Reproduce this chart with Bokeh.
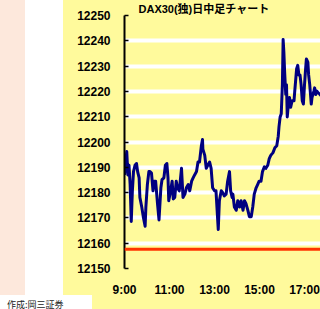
from bokeh.plotting import figure
from bokeh.models import Range1d, FixedTicker, Span, Div
from bokeh.layouts import column
from bokeh.embed import file_html
from bokeh.resources import INLINE

# ---- data ----
title_text = "DAX30(独)日中足チャート"
credit_text = "作成:岡三証券"
minutes_after_9 = [0, 6, 9, 12, 15, 18, 21, 24, 28, 32, 35, 39, 41, 46, 50, 55, 57, 61, 65, 68,
                   72, 76, 79, 83, 88, 92, 97, 100, 105, 109, 113, 116, 118, 123, 127, 130, 134,
                   138, 141, 146, 152, 156, 161, 165, 170, 174, 179, 183, 187, 192, 196, 200,
                   205, 208, 209, 214, 218, 222, 227, 231, 235, 240, 244, 247, 250, 253, 258,
                   262, 266, 271, 275, 280, 283, 287, 289, 293, 298, 302, 307, 311, 316, 320,
                   324, 329, 333, 338, 342, 346, 351, 355, 359, 364, 368, 373, 377, 382, 386,
                   390, 396, 401, 406, 410, 412, 415, 418, 421, 423, 425, 427, 430, 432, 434,
                   437, 440, 443, 447, 452, 454, 459, 462, 465, 468, 471, 474, 477, 480, 483,
                   485, 489, 491, 494, 498, 500, 505, 507, 510, 513, 516, 520, 526]
prices = [12187.0, 12196.2, 12187.0, 12190.8, 12183.2, 12168.6, 12180.7, 12188.3, 12190.8, 12191.5,
          12188.3, 12185.8, 12178.1, 12174.3, 12170.5, 12166.7, 12174.3, 12183.2, 12188.3, 12188.3,
          12187.7, 12180.7, 12184.5, 12184.5, 12175.6, 12169.2, 12181.9, 12185.1, 12185.8, 12190.8,
          12191.5, 12185.8, 12176.8, 12180.7, 12184.5, 12177.5, 12178.1, 12184.5, 12182.0, 12180.7,
          12189.6, 12178.1, 12179.4, 12181.9, 12183.2, 12180.7, 12184.5, 12185.8, 12187.0, 12188.3,
          12192.1, 12192.1, 12198.5, 12201.0, 12197.2, 12194.7, 12189.6, 12190.8, 12192.1, 12189.6,
          12181.9, 12180.7, 12180.7, 12173.0, 12165.4, 12176.8, 12180.7, 12180.0, 12178.7, 12179.4,
          12184.5, 12188.3, 12180.7, 12178.1, 12179.4, 12174.3, 12173.0, 12176.8, 12174.3, 12176.8,
          12173.0, 12176.8, 12175.6, 12173.0, 12170.5, 12170.5, 12174.3, 12179.4, 12181.9, 12183.2,
          12184.5, 12184.5, 12188.3, 12190.2, 12189.6, 12190.8, 12193.4, 12194.7, 12195.8, 12197.7,
          12198.5, 12202.3, 12206.1, 12209.9, 12211.2, 12222.6, 12240.5, 12235.4, 12227.7, 12218.8,
          12222.6, 12209.9, 12215.0, 12217.6, 12213.7, 12216.3, 12216.3, 12220.1, 12229.0, 12230.3,
          12226.5, 12226.5, 12222.6, 12216.3, 12215.0, 12222.6, 12229.0, 12232.8, 12231.6, 12226.5,
          12222.6, 12215.0, 12217.6, 12220.1, 12221.4, 12218.8, 12220.1, 12219.5, 12219.0, 12218.0]
prev_close = 12157.6
y_ticks = [12150, 12160, 12170, 12180, 12190, 12200, 12210, 12220, 12230, 12240, 12250]
x_tick_hours = [9, 11, 13, 15, 17]
x_tick_labels = ["9:00", "11:00", "13:00", "15:00", "17:00"]

hours = [9 + m / 60 for m in minutes_after_9]

YELLOW = "#FFFA9C"
PEACH = "#FDE8DC"
NAVY = "#000080"

fig_bg = (
    "linear-gradient(#ffffff, #ffffff) 0px 295px / 92px 4px no-repeat, "
    f"linear-gradient(to right, {PEACH} 0px, {PEACH} 25px, #ffffff 25px, #ffffff 63px, "
    f"{YELLOW} 63px, {YELLOW} 100%)"
)

p = figure(width=320, height=299, output_backend="svg", toolbar_location=None,
           x_range=Range1d(9, 17.711), y_range=Range1d(12150, 12250),
           min_border_left=124, min_border_right=0, min_border_top=15, min_border_bottom=22,
           background_fill_color=YELLOW, border_fill_color=None, outline_line_color=None,
           styles={"background": fig_bg})

p.title.text = title_text
p.title.align = "left"
p.title.offset = 14
p.title.standoff = 1
p.title.text_font = "Liberation Sans, Noto Sans CJK JP"
p.title.text_font_size = "11px"
p.title.text_font_style = "bold"
p.title.text_color = "black"

p.xgrid.grid_line_color = None
p.ygrid.grid_line_color = "white"
p.ygrid.grid_line_width = 4
p.ygrid.ticker = FixedTicker(ticks=y_ticks)

p.add_layout(Span(location=prev_close, dimension="width", line_color="#FF3300", line_width=3))
p.line(hours, prices, line_color=NAVY, line_width=3, line_join="round")

ya = p.yaxis[0]
ya.ticker = FixedTicker(ticks=y_ticks)
ya.axis_line_color = "black"
ya.axis_line_width = 2
ya.major_tick_in = 4
ya.major_tick_out = 0
ya.major_tick_line_width = 1.5
ya.minor_tick_line_color = None
ya.major_label_standoff = 14
ya.major_label_text_font = "Liberation Sans"
ya.major_label_text_font_style = "bold"
ya.major_label_text_font_size = "12px"
ya.major_label_text_color = "black"
ya.formatter.use_scientific = False

xa = p.xaxis[0]
xa.ticker = FixedTicker(ticks=x_tick_hours)
xa.major_label_overrides = dict(zip(x_tick_hours, x_tick_labels))
xa.axis_line_color = None
xa.major_tick_line_color = None
xa.minor_tick_line_color = None
xa.major_label_standoff = 8
xa.major_label_text_font = "Liberation Sans"
xa.major_label_text_font_style = "bold"
xa.major_label_text_font_size = "12px"
xa.major_label_text_color = "black"

credit = Div(
    text=("<div style=\"padding-left:7px;font-size:9px;line-height:9px;color:#222222;"
          "font-family:'Noto Sans CJK JP',sans-serif;white-space:nowrap;margin:0;"
          "position:relative;top:-3px;\">" + credit_text + "</div>"),
    width=320, height=10, margin=0,
    styles={"background": f"linear-gradient(to right, #ffffff 0px, #ffffff 92px, {YELLOW} 92px, {YELLOW} 100%)"},
)

layout = column(p, credit, spacing=0)

open("out.html", "w").write(file_html(layout, INLINE))
